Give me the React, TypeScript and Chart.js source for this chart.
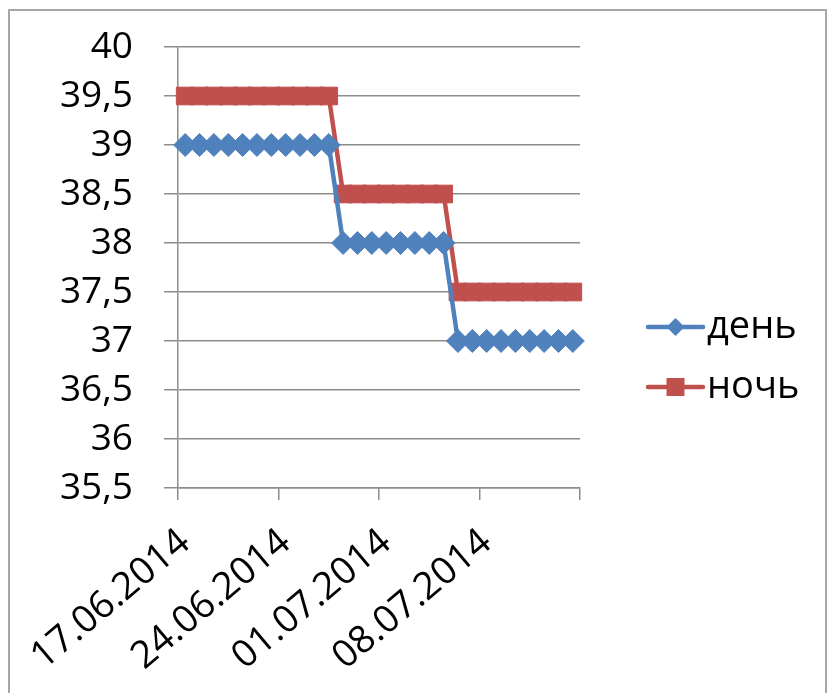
import React, { useEffect, useRef } from "react";
import { Chart, registerables } from "chart.js";

Chart.register(...registerables);

// Daily readings, 17.06.2014 – 14.07.2014
const dates = [
  "17.06.2014", "18.06.2014", "19.06.2014", "20.06.2014", "21.06.2014", "22.06.2014", "23.06.2014",
  "24.06.2014", "25.06.2014", "26.06.2014", "27.06.2014", "28.06.2014", "29.06.2014", "30.06.2014",
  "01.07.2014", "02.07.2014", "03.07.2014", "04.07.2014", "05.07.2014", "06.07.2014", "07.07.2014",
  "08.07.2014", "09.07.2014", "10.07.2014", "11.07.2014", "12.07.2014", "13.07.2014", "14.07.2014",
];

const dayTemps = [
  39, 39, 39, 39, 39, 39, 39, 39, 39, 39, 39,
  38, 38, 38, 38, 38, 38, 38, 38,
  37, 37, 37, 37, 37, 37, 37, 37, 37,
];

const nightTemps = [
  39.5, 39.5, 39.5, 39.5, 39.5, 39.5, 39.5, 39.5, 39.5, 39.5, 39.5,
  38.5, 38.5, 38.5, 38.5, 38.5, 38.5, 38.5, 38.5,
  37.5, 37.5, 37.5, 37.5, 37.5, 37.5, 37.5, 37.5, 37.5,
];

const seriesNames = ["день", "ночь"];

const yMin = 35.5;
const yMax = 40;
const yStep = 0.5;
const labelEvery = 7;

const FONT = "'Open Sans', 'DejaVu Sans', sans-serif";
const BLUE = "#4F81BD";
const RED = "#C0504D";
const GRID = "#8c8c8c";

const formatTemp = (v: number) => (Number.isInteger(v) ? String(v) : String(v).replace(".", ","));

// Frame around the whole chart (open at the bottom)
const framePlugin = {
  id: "frame",
  beforeDraw(chart: any) {
    const ctx = chart.ctx;
    ctx.save();
    ctx.strokeStyle = "#a6a6a6";
    ctx.lineWidth = 2;
    ctx.beginPath();
    ctx.moveTo(9, chart.height + 2);
    ctx.lineTo(9, 10);
    ctx.lineTo(826, 10);
    ctx.lineTo(826, chart.height + 2);
    ctx.stroke();
    ctx.restore();
  },
};

// Legend on the right: line sample with the series marker, then the name
const sideLegend = {
  id: "sideLegend",
  afterDraw(chart: any) {
    const ctx = chart.ctx;
    chart.data.datasets.forEach((ds: any, i: number) => {
      const cy = 327 + i * 60;
      const x0 = 648;
      const x1 = 703;
      const cx = (x0 + x1) / 2;
      ctx.save();
      ctx.strokeStyle = ds.borderColor;
      ctx.lineWidth = 4.5;
      ctx.lineCap = "round";
      ctx.beginPath();
      ctx.moveTo(x0, cy);
      ctx.lineTo(x1, cy);
      ctx.stroke();
      ctx.fillStyle = ds.pointBackgroundColor;
      ctx.beginPath();
      if (ds.pointStyle === "rectRot") {
        const r = 9;
        ctx.moveTo(cx, cy - r);
        ctx.lineTo(cx + r, cy);
        ctx.lineTo(cx, cy + r);
        ctx.lineTo(cx - r, cy);
        ctx.closePath();
      } else {
        const h = 9;
        ctx.rect(cx - h, cy - h, 2 * h, 2 * h);
      }
      ctx.fill();
      ctx.fillStyle = "#000";
      ctx.font = `38px ${FONT}`;
      ctx.textAlign = "left";
      ctx.textBaseline = "middle";
      ctx.fillText(ds.label, x1 + 4, cy);
      ctx.restore();
    });
  },
};

export default function App() {
  const canvasRef = useRef<HTMLCanvasElement | null>(null);

  useEffect(() => {
    const canvas = canvasRef.current;
    if (!canvas) return;
    const chart = new Chart(canvas, {
      type: "line",
      data: {
        labels: dates,
        datasets: [
          {
            label: seriesNames[0],
            data: dayTemps,
            borderColor: BLUE,
            backgroundColor: BLUE,
            pointBackgroundColor: BLUE,
            pointBorderColor: BLUE,
            pointBorderWidth: 1,
            pointStyle: "rectRot",
            pointRadius: 11.5,
            borderWidth: 4.5,
            tension: 0,
            clip: 12,
          },
          {
            label: seriesNames[1],
            data: nightTemps,
            borderColor: RED,
            backgroundColor: RED,
            pointBackgroundColor: RED,
            pointBorderColor: RED,
            pointBorderWidth: 1,
            pointStyle: "rect",
            pointRadius: 12.5,
            borderWidth: 4.5,
            tension: 0,
            clip: 12,
          },
        ],
      },
      options: {
        animation: false,
        responsive: false,
        events: [],
        layout: { padding: { top: 47, left: 0, right: 249, bottom: 0 } },
        plugins: {
          legend: { display: false },
          tooltip: { enabled: false },
        },
        scales: {
          x: {
            type: "category",
            offset: true,
            grid: {
              offset: true,
              drawOnChartArea: false,
              drawTicks: true,
              tickLength: 12,
              lineWidth: 1.5,
              color: (c: any) =>
                c.index === undefined || c.index % labelEvery === 0 ? GRID : "rgba(0,0,0,0)",
            },
            border: { display: true, color: GRID, width: 1.5 },
            ticks: {
              autoSkip: false,
              maxRotation: 40,
              minRotation: 40,
              padding: 20,
              color: "#000",
              font: { family: FONT, size: 38 },
              callback: (_v: any, i: number) => (i % labelEvery === 0 ? dates[i] : ""),
            },
            afterFit: (s: any) => {
              s.height = 205;
              s.paddingLeft = 0;
              s.paddingRight = 0;
            },
          },
          y: {
            min: yMin,
            max: yMax,
            grid: {
              color: GRID,
              lineWidth: 1.5,
              drawTicks: true,
              tickLength: 14,
            },
            border: { display: true, color: GRID, width: 1.5 },
            ticks: {
              stepSize: yStep,
              padding: 31,
              color: "#000",
              font: { family: FONT, size: 37 },
              callback: (v: any) => formatTemp(Number(v)),
            },
            afterFit: (s: any) => {
              s.width = 178;
              s.paddingTop = 0;
              s.paddingBottom = 0;
            },
          },
        },
      },
      plugins: [framePlugin, sideLegend],
    });
    return () => chart.destroy();
  }, []);

  return (
    <div style={{ position: "fixed", left: 0, top: 0, width: 829, height: 693, background: "#fff" }}>
      <canvas ref={canvasRef} width={829} height={693} style={{ display: "block" }} />
    </div>
  );
}
